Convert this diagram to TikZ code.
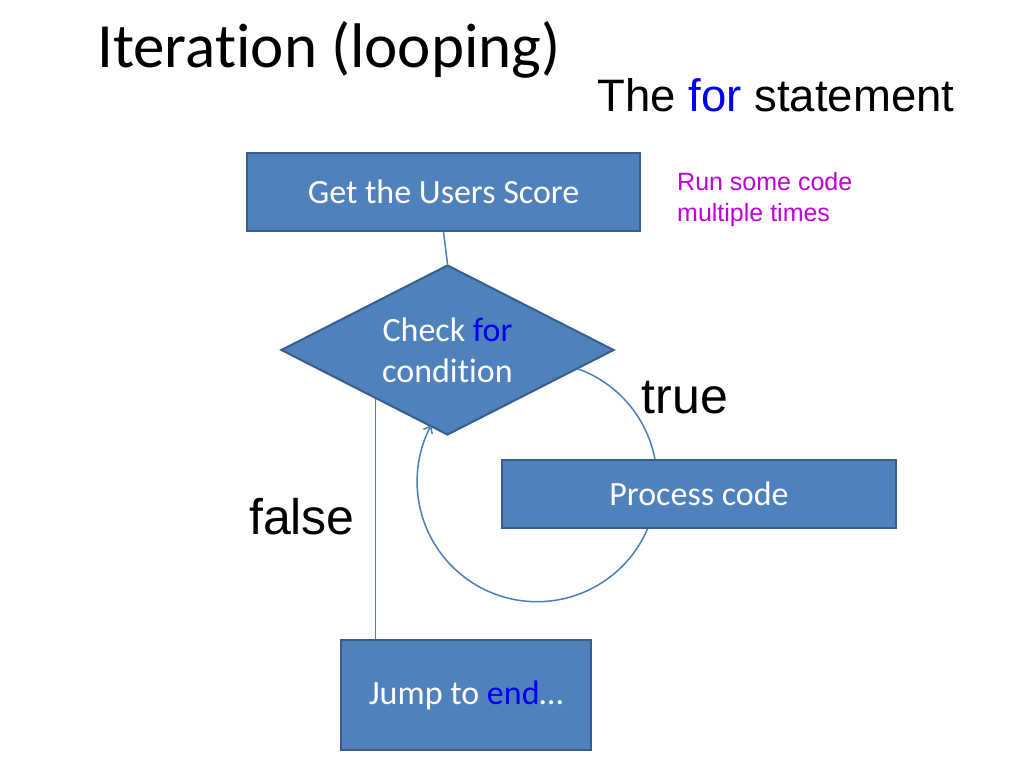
\documentclass[tikz,border=0pt]{standalone}
\usepackage{fontspec}
\setmainfont{Carlito}[Ligatures=NoCommon]
\newfontfamily\arialf{Liberation Sans}
\usetikzlibrary{shapes.geometric,arrows.meta,calc}
\definecolor{boxfill}{HTML}{4F81BD}
\definecolor{boxedge}{HTML}{385D8A}
\definecolor{linecol}{HTML}{4A7EBB}
\definecolor{kwblue}{HTML}{0000F0}
\definecolor{magentatext}{HTML}{C000D8}
\tikzset{
  flowbox/.style={rectangle, draw=boxedge, fill=boxfill, line width=2pt, inner sep=0pt,
    text=white, font=\fontsize{34}{41}\selectfont, align=center},
  decision/.style={diamond, draw=boxedge, fill=boxfill, line width=2pt, inner sep=0pt,
    text=white, font=\fontsize{34}{41}\selectfont, align=center,
    minimum width=333pt, minimum height=170pt, aspect=1.96},
  conn/.style={draw=linecol, line width=1.5pt},
  bigsans/.style={font=\arialf\fontsize{50}{56}\selectfont, text=black, inner sep=0pt}
}
\begin{document}
\begin{tikzpicture}[x=1pt,y=1pt]
\useasboundingbox (0,0) rectangle (1024,-768);
\fill[white] (0,0) rectangle (1024,-768);

\node[inner sep=0pt, font=\fontsize{63}{70}\selectfont] (title) at (329,-50) {Iteration (looping)};
\node[inner sep=0pt, font=\arialf\fontsize{45.5}{52}\selectfont] (subtitle) at (776,-95) {The \textcolor{kwblue}{for} statement};

\node[anchor=north west, inner sep=0pt, align=left, text=magentatext,
  font=\arialf\fontsize{25}{31}\selectfont] (note) at (677,-172) {Run some code\\multiple times};

\node[flowbox, minimum width=393pt, minimum height=78pt] (get) at (443.5,-192) {Get the Users Score};
\node[decision] (diam) at (447.5,-350) {Check \textcolor{kwblue}{for}\\condition};

\coordinate (arcstart) at ($(diam.east)!0.22!(diam.south)$);
\draw[conn, -{Straight Barb[length=6pt,width=10pt]}] (arcstart) arc[start angle=70, end angle=-208, radius=120];

\node[flowbox, minimum width=394pt, minimum height=68pt] (proc) at (699,-494) {Process code};
\node[flowbox, minimum width=250pt, minimum height=110pt] (jump) at (466,-695) {Jump to \textcolor{kwblue}{end}…};

\draw[conn] (get.south) -- (diam.north);
\coordinate (falsestart) at ($(diam.west)!0.569!(diam.south)$);
\draw[conn] (falsestart) -- (falsestart |- jump.north);

\node[bigsans] (truelbl) at (685,-398) {true};
\node[bigsans] (falselbl) at (302,-517) {false};
\end{tikzpicture}
\end{document}
